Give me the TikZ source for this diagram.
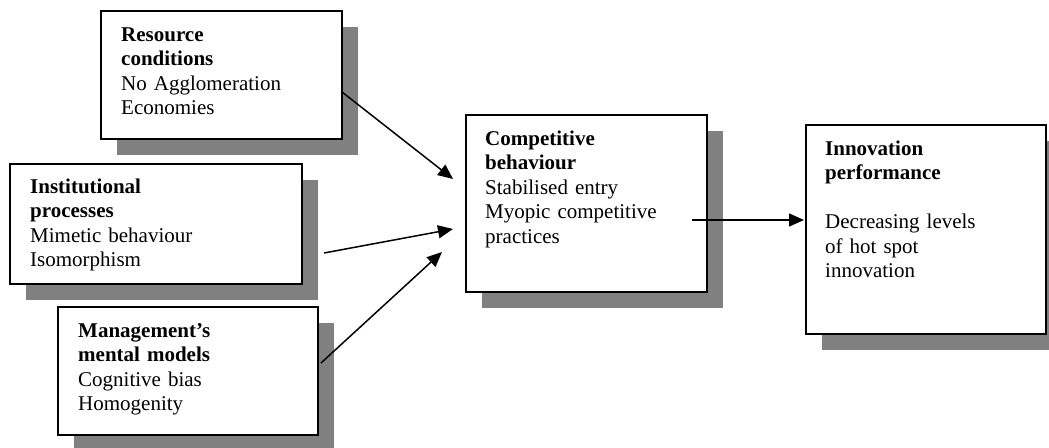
\documentclass[tikz,border=0pt]{standalone}
\usepackage{fontspec}
\setmainfont{Liberation Serif}
\usetikzlibrary{arrows.meta,shadows}
\definecolor{shadowgray}{HTML}{808080}
\begin{document}
\begin{tikzpicture}[x=1pt,y=-1pt,
  card/.style={draw=black, line width=1.8pt, fill=white, anchor=north west,
    inner sep=0pt, minimum width=#1,
    drop shadow={shadow xshift=16pt, shadow yshift=-16pt, fill=shadowgray, opacity=1}},
  cardtext/.style={anchor=base west, inner sep=0pt, text width=230pt, align=left,
    font=\fontsize{21}{24.5}\selectfont},
  link/.style={line width=1.5pt, -{Triangle[length=15pt,width=13pt]}}]

\useasboundingbox (0,0) rectangle (1049,447);

% boxes with drop shadows
\node[card=241pt, minimum height=128pt] (res) at (100,10) {};
\node[card=292pt, minimum height=120pt] (inst) at (9,163) {};
\node[card=260pt, minimum height=128pt] (mgmt) at (57,306) {};
\node[card=241pt, minimum height=177pt] (comp) at (465,114) {};
\node[card=240pt, minimum height=209pt] (innov) at (805,124) {};

% box contents
\node[cardtext] (resT) at (121,41) {\textbf{Resource}\\\textbf{conditions}\\No Agglomeration\\Economies};
\node[cardtext] (instT) at (30,193) {\textbf{Institutional}\\\textbf{processes}\\Mimetic behaviour\\Isomorphism};
\node[cardtext] (mgmtT) at (78,337) {\textbf{Management’s}\\\textbf{mental models}\\Cognitive bias\\Homogenity};
\node[cardtext] (compT) at (485,145) {\textbf{Competitive}\\\textbf{behaviour}\\Stabilised entry\\Myopic competitive\\practices};
\node[cardtext] (innovT) at (825,155) {\textbf{Innovation}\\\textbf{performance}\\[24.5pt]Decreasing levels\\of hot spot\\innovation};

% connector end points
\coordinate (resOut) at (342,92);
\coordinate (instOut) at (324,253);
\coordinate (mgmtOut) at (321,363);
\coordinate (compIn1) at (453,179);
\coordinate (compIn2) at (453,229);
\coordinate (compIn3) at (442,252);
\coordinate (compOut) at (692,220);
\coordinate (innovIn) at (804,220);

% influences
\draw[link] (resOut) -- (compIn1);
\draw[link] (instOut) -- (compIn2);
\draw[link] (mgmtOut) -- (compIn3);
\draw[link] (compOut) -- (innovIn);
\end{tikzpicture}
\end{document}
